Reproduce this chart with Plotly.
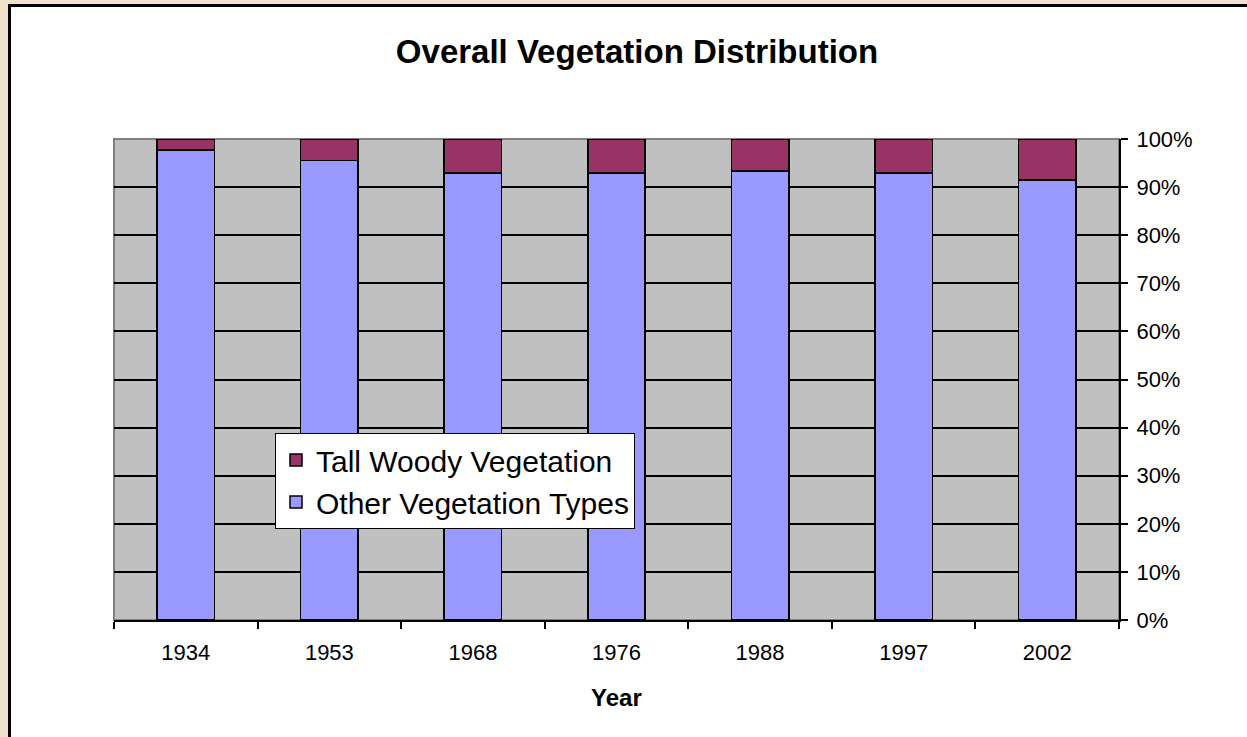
import plotly.graph_objects as go

years = ["1934", "1953", "1968", "1976", "1988", "1997", "2002"]
other_veg = [97.7, 95.5, 92.9, 92.9, 93.3, 92.9, 91.5]
tall_woody = [2.3, 4.5, 7.1, 7.1, 6.7, 7.1, 8.5]
y_ticks = [0, 10, 20, 30, 40, 50, 60, 70, 80, 90, 100]
y_tick_labels = ["0%", "10%", "20%", "30%", "40%", "50%", "60%", "70%", "80%", "90%", "100%"]

W, H = 1247, 737
L, R, T, B = 114, 1119, 139, 620
pw, ph = R - L, B - T

def px_x(p):
    return (p - L) / pw

def px_y(p):
    return (B - p) / ph

fig = go.Figure()
fig.add_trace(go.Bar(
    x=years, y=other_veg, name="Other Vegetation Types",
    marker=dict(color="#9999FF", line=dict(color="black", width=1.5)),
))
fig.add_trace(go.Bar(
    x=years, y=tall_woody, name="Tall Woody Vegetation",
    marker=dict(color="#993366", line=dict(color="black", width=1.5)),
))

fig.update_layout(
    width=W, height=H,
    margin=dict(l=L, r=W - R, t=T, b=H - B, pad=0),
    paper_bgcolor="#EFE1CC",
    plot_bgcolor="#C0C0C0",
    barmode="stack",
    bargap=0.6,
    font=dict(family="Arial, Liberation Sans, sans-serif", color="black", size=22),
    title=dict(
        text="<b>Overall Vegetation Distribution</b>",
        x=637 / W, xref="container", xanchor="center",
        y=1 - 51 / H, yref="container", yanchor="middle",
        font=dict(size=33, color="black"),
    ),
    showlegend=True,
    legend=dict(
        x=px_x(275), y=px_y(433), xanchor="left", yanchor="top",
        bgcolor="white", bordercolor="black", borderwidth=1,
        font=dict(size=30), traceorder="reversed",
    ),
    xaxis=dict(
        type="category",
        showgrid=False,
        showline=True, linecolor="black", linewidth=2,
        ticks="outside", tickson="boundaries", ticklen=7, tickwidth=2, tickcolor="black",
        tickfont=dict(size=22),
        ticklabelstandoff=12,
    ),
    yaxis=dict(
        side="right",
        range=[0, 100],
        tickvals=y_ticks,
        ticktext=y_tick_labels,
        showgrid=True, gridcolor="black", gridwidth=1.5,
        zeroline=False,
        showline=True, linecolor="black", linewidth=2,
        ticks="outside", ticklen=7, tickwidth=2, tickcolor="black",
        tickfont=dict(size=22),
        ticklabelstandoff=4,
    ),
    shapes=[
        dict(type="rect", xref="paper", yref="paper", layer="below",
             x0=px_x(9.5), x1=px_x(1300), y0=px_y(800), y1=px_y(5.5),
             fillcolor="white", line=dict(color="black", width=3)),
        dict(type="rect", xref="paper", yref="paper", layer="below",
             x0=0, x1=1, y0=0, y1=1,
             fillcolor="#C0C0C0", line=dict(color="#808080", width=2)),
    ],
    annotations=[
        dict(text="<b>Year</b>", xref="paper", yref="paper",
             x=0.5, y=px_y(697), xanchor="center", yanchor="middle",
             showarrow=False, font=dict(size=24, color="black")),
    ],
)

fig.write_html(
    "out.html",
    config={"displayModeBar": False},
    post_script="document.body.style.margin='0px';document.body.style.overflow='hidden';",
)
